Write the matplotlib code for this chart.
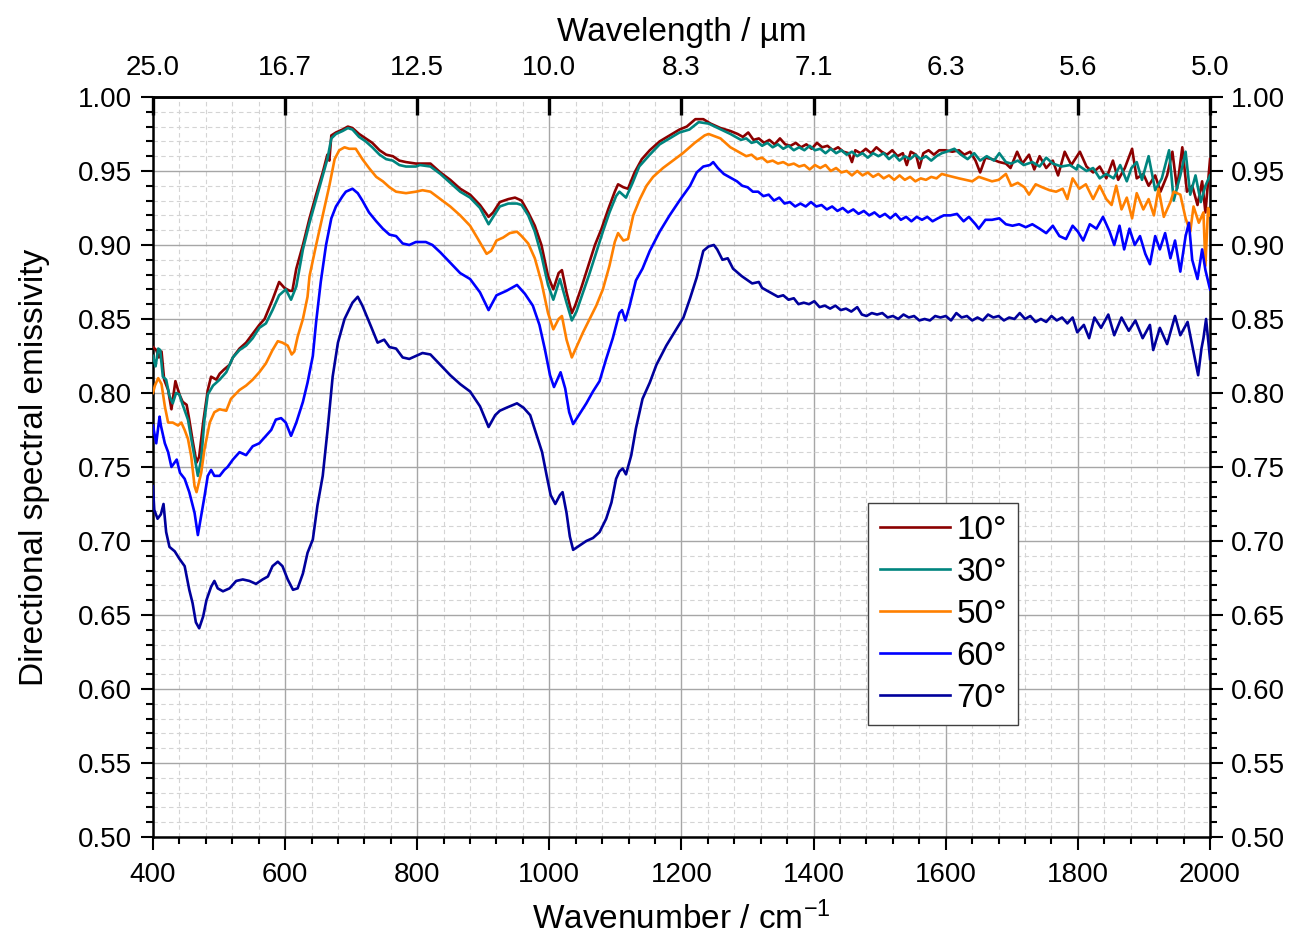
import matplotlib
matplotlib.use("Agg")
import matplotlib.pyplot as plt
from matplotlib.ticker import MultipleLocator, NullLocator

plt.rcParams["font.family"] = ["Liberation Sans", "DejaVu Sans"]
plt.rcParams["mathtext.fontset"] = "custom"
plt.rcParams["mathtext.rm"] = "Liberation Sans"
plt.rcParams["mathtext.default"] = "regular"

# directional spectral emissivity, wavenumber in cm^-1
wn_10 = [400, 405, 409, 413, 417, 423, 428, 434, 438, 441, 445, 451, 455, 460, 466, 470, 476, 483, 488, 496,
         501, 508, 516, 521, 531, 541, 551, 561, 569, 581, 591, 599, 607, 611, 617, 627, 637, 647, 657, 664,
         667, 670, 677, 687, 695, 702, 712, 722, 732, 743, 753, 763, 773, 783, 798, 813, 820, 835, 850, 865,
         880, 895, 908, 915, 925, 938, 948, 958, 968, 978, 988, 998, 1006, 1014, 1019, 1026, 1034, 1039, 1049, 1059,
         1069, 1079, 1089, 1099, 1104, 1112, 1119, 1129, 1140, 1152, 1167, 1182, 1197, 1208, 1221, 1233, 1244, 1259, 1274, 1285,
         1293, 1301, 1309, 1317, 1325, 1333, 1341, 1349, 1357, 1365, 1373, 1381, 1389, 1397, 1405, 1413, 1421, 1429, 1437, 1445,
         1453, 1458, 1463, 1471, 1479, 1487, 1495, 1503, 1511, 1519, 1527, 1535, 1541, 1547, 1555, 1560, 1566, 1574, 1582, 1590,
         1599, 1610, 1620, 1628, 1637, 1645, 1652, 1660, 1670, 1681, 1691, 1698, 1708, 1716, 1726, 1734, 1742,
         1752, 1762, 1770, 1780, 1790, 1803, 1813, 1823, 1833, 1843, 1853, 1861, 1871, 1882, 1889, 1899, 1907, 1917, 1925, 1935,
         1943, 1950, 1958, 1965, 1973, 1981, 1988, 1993, 2000]
eps_10 = [0.831, 0.829, 0.824, 0.828, 0.809, 0.802, 0.789, 0.808, 0.802, 0.798, 0.794, 0.792, 0.782, 0.768, 0.753, 0.757, 0.780, 0.802, 0.811, 0.809,
          0.813, 0.816, 0.819, 0.824, 0.830, 0.834, 0.840, 0.846, 0.850, 0.863, 0.875, 0.871, 0.869, 0.869, 0.884, 0.900, 0.918, 0.934, 0.949, 0.961,
          0.957, 0.974, 0.976, 0.978, 0.980, 0.979, 0.975, 0.972, 0.969, 0.964, 0.961, 0.960, 0.957, 0.956, 0.955, 0.955, 0.955, 0.949, 0.944, 0.938,
          0.934, 0.927, 0.919, 0.922, 0.929, 0.931, 0.932, 0.930, 0.922, 0.913, 0.900, 0.879, 0.870, 0.881, 0.883, 0.868, 0.854, 0.859, 0.872, 0.886,
          0.900, 0.911, 0.924, 0.936, 0.941, 0.939, 0.938, 0.949, 0.958, 0.964, 0.970, 0.974, 0.978, 0.980, 0.985, 0.985, 0.982, 0.979, 0.977, 0.975,
          0.973, 0.976, 0.971, 0.972, 0.969, 0.971, 0.968, 0.972, 0.968, 0.967, 0.969, 0.966, 0.968, 0.965, 0.969, 0.966, 0.967, 0.964, 0.966, 0.963,
          0.962, 0.956, 0.964, 0.962, 0.965, 0.962, 0.966, 0.963, 0.961, 0.964, 0.960, 0.962, 0.954, 0.963, 0.961, 0.952, 0.962, 0.964, 0.961, 0.964,
          0.964, 0.963, 0.964, 0.961, 0.963, 0.957, 0.949, 0.959, 0.958, 0.956, 0.955, 0.952, 0.963, 0.955, 0.961, 0.951, 0.960,
          0.952, 0.957, 0.947, 0.963, 0.954, 0.963, 0.953, 0.949, 0.953, 0.945, 0.957, 0.944, 0.952, 0.965, 0.945, 0.948, 0.940, 0.947, 0.936, 0.947,
          0.963, 0.938, 0.966, 0.936, 0.940, 0.927, 0.943, 0.922, 0.958]

wn_30 = [400, 404, 408, 411, 415, 420, 425, 430, 435, 440, 445, 453, 460, 468, 473, 478, 483, 491, 501, 511,
         521, 531, 541, 551, 561, 571, 581, 591, 601, 609, 617, 627, 637, 647, 657, 664, 670, 677, 687, 695,
         702, 712, 722, 732, 743, 753, 763, 773, 783, 798, 804, 820, 835, 850, 865, 880, 895, 908, 915, 925,
         938, 951, 958, 968, 978, 988, 998, 1006, 1016, 1026, 1034, 1041, 1051, 1061, 1071, 1081, 1091, 1101, 1106, 1116,
         1126, 1136, 1152, 1167, 1182, 1197, 1212, 1226, 1241, 1255, 1274,
         1282, 1290, 1298, 1306, 1314, 1322, 1330, 1338, 1346, 1354, 1362, 1370, 1378, 1386, 1394, 1402, 1410, 1418, 1426, 1434,
         1442, 1450, 1458, 1466, 1474, 1482, 1490, 1498, 1506, 1514, 1522, 1530, 1538, 1546, 1554, 1562, 1570, 1578, 1586, 1594,
         1601, 1613, 1623, 1633, 1643, 1652, 1662, 1673, 1681, 1691, 1699, 1709, 1718, 1731, 1742, 1752,
         1762, 1775, 1788, 1798, 1800, 1813, 1823, 1833, 1843, 1854, 1864, 1874, 1881, 1889, 1897, 1907, 1917, 1927, 1938, 1945,
         1955, 1963, 1970, 1978, 1986, 1993, 2000]
eps_30 = [0.825, 0.818, 0.830, 0.829, 0.811, 0.809, 0.798, 0.793, 0.800, 0.799, 0.792, 0.782, 0.764, 0.744, 0.755, 0.782, 0.799, 0.805, 0.809, 0.814,
          0.824, 0.829, 0.832, 0.837, 0.844, 0.847, 0.856, 0.866, 0.870, 0.863, 0.872, 0.897, 0.915, 0.931, 0.947, 0.958, 0.972, 0.975, 0.977, 0.979,
          0.978, 0.973, 0.970, 0.966, 0.961, 0.958, 0.957, 0.954, 0.953, 0.953, 0.954, 0.953, 0.948, 0.942, 0.936, 0.932, 0.925, 0.914, 0.919, 0.926,
          0.928, 0.928, 0.927, 0.920, 0.909, 0.893, 0.873, 0.863, 0.877, 0.861, 0.849, 0.855, 0.868, 0.881, 0.895, 0.909, 0.922, 0.933, 0.936, 0.932,
          0.942, 0.953, 0.961, 0.968, 0.972, 0.976, 0.978, 0.983, 0.982, 0.979, 0.975,
          0.973, 0.971, 0.972, 0.969, 0.970, 0.967, 0.969, 0.966, 0.968, 0.965, 0.967, 0.964, 0.966, 0.964, 0.967, 0.964, 0.965, 0.962, 0.965, 0.962,
          0.964, 0.961, 0.963, 0.960, 0.962, 0.959, 0.962, 0.960, 0.962, 0.958, 0.961, 0.957, 0.960, 0.958, 0.961, 0.958, 0.960, 0.957, 0.960, 0.962,
          0.963, 0.965, 0.961, 0.958, 0.962, 0.957, 0.960, 0.957, 0.962, 0.956, 0.955, 0.957, 0.954, 0.956, 0.953, 0.959,
          0.955, 0.953, 0.954, 0.951, 0.954, 0.950, 0.952, 0.945, 0.948, 0.945, 0.954, 0.943, 0.952, 0.956, 0.944, 0.960, 0.937, 0.945, 0.964, 0.930,
          0.947, 0.963, 0.934, 0.947, 0.929, 0.940, 0.947]

wn_50 = [400, 403, 408, 413, 418, 423, 430, 438, 443, 448, 453, 458, 463, 466, 473, 478, 486, 493, 501, 511,
         518, 531, 541, 551, 561, 571, 581, 589, 596, 604, 610, 614, 619, 627, 634, 637, 647, 657, 667, 675,
         682, 690, 697, 707, 717, 727, 738, 748, 758, 768, 783, 798, 808, 820, 835, 850, 865, 880, 892, 905,
         912, 920, 930, 940, 951, 958, 968, 978, 988, 998, 1006, 1014, 1019, 1026, 1034, 1041, 1051, 1061, 1071, 1081,
         1091, 1099, 1104, 1112, 1119, 1127, 1137, 1147, 1157, 1172, 1187, 1202, 1220, 1235, 1241, 1259, 1274,
         1290, 1298, 1306, 1314, 1322, 1330, 1338, 1346, 1354, 1362, 1370, 1378, 1386, 1394, 1402, 1410, 1418, 1426, 1434, 1442,
         1450, 1458, 1466, 1474, 1482, 1490, 1498, 1506, 1514, 1522, 1530, 1538, 1546, 1554, 1562, 1570, 1578, 1586, 1594, 1602,
         1620, 1640, 1650, 1670, 1680, 1691,
         1699, 1709, 1719, 1726, 1736, 1746, 1757, 1767, 1777, 1784, 1792, 1802, 1812, 1823, 1833, 1843, 1851, 1858, 1866, 1874,
         1882, 1889, 1899, 1907, 1915, 1922, 1930, 1940, 1945, 1955, 1963, 1970, 1975, 1983, 1990, 1993, 1997, 2000]
eps_50 = [0.800, 0.805, 0.810, 0.806, 0.791, 0.780, 0.780, 0.778, 0.780, 0.775, 0.769, 0.757, 0.737, 0.733, 0.746, 0.762, 0.780, 0.787, 0.789, 0.788,
          0.796, 0.802, 0.805, 0.809, 0.814, 0.820, 0.829, 0.835, 0.834, 0.832, 0.826, 0.828, 0.838, 0.850, 0.865, 0.879, 0.900, 0.920, 0.940, 0.958,
          0.964, 0.966, 0.965, 0.965, 0.958, 0.952, 0.946, 0.943, 0.939, 0.936, 0.935, 0.936, 0.937, 0.936, 0.931, 0.926, 0.920, 0.913, 0.904, 0.894,
          0.896, 0.903, 0.905, 0.908, 0.909, 0.906, 0.901, 0.891, 0.875, 0.854, 0.843, 0.850, 0.852, 0.836, 0.824, 0.831, 0.841, 0.850, 0.859, 0.870,
          0.886, 0.902, 0.908, 0.903, 0.904, 0.920, 0.931, 0.940, 0.946, 0.952, 0.957, 0.962, 0.969, 0.974, 0.975, 0.972, 0.966,
          0.962, 0.960, 0.961, 0.958, 0.959, 0.956, 0.957, 0.955, 0.956, 0.954, 0.955, 0.953, 0.954, 0.951, 0.954, 0.952, 0.954, 0.950, 0.952, 0.949,
          0.950, 0.947, 0.950, 0.947, 0.949, 0.946, 0.948, 0.945, 0.947, 0.944, 0.947, 0.944, 0.946, 0.943, 0.945, 0.944, 0.946, 0.945, 0.948, 0.947,
          0.945, 0.943, 0.946, 0.943, 0.944, 0.948,
          0.940, 0.942, 0.939, 0.934, 0.941, 0.939, 0.937, 0.936, 0.938, 0.931, 0.945, 0.938, 0.941, 0.931, 0.940, 0.931, 0.927, 0.940, 0.924, 0.932,
          0.918, 0.935, 0.924, 0.931, 0.920, 0.938, 0.919, 0.929, 0.936, 0.934, 0.918, 0.909, 0.926, 0.915, 0.922, 0.886, 0.925, 0.920]

wn_60 = [400, 405, 410, 412, 418, 423, 428, 436, 441, 448, 455, 463, 468, 473, 478, 483, 488, 493, 501, 508,
         513, 521, 531, 541, 551, 561, 571, 579, 586, 594, 601, 609, 617, 627, 634, 642, 647, 654, 662, 670,
         677, 687, 692, 702, 710, 717, 727, 738, 748, 758, 768, 778, 788, 798, 813, 823, 835, 850, 865, 880,
         895, 908, 920, 935, 951, 963, 975, 985, 993, 1001, 1007, 1014, 1017, 1024, 1030, 1036, 1046, 1056, 1066, 1076,
         1086, 1096, 1106, 1110, 1115, 1121, 1131, 1141, 1152, 1167, 1182, 1197, 1213, 1223, 1233, 1243, 1248, 1255, 1264,
         1284, 1292, 1300, 1308, 1316, 1324, 1332, 1340, 1348, 1356, 1364, 1372, 1380, 1388, 1396, 1404, 1412, 1420, 1428, 1436,
         1444, 1452, 1460, 1468, 1476, 1484, 1492, 1500, 1508, 1516, 1524, 1532, 1540, 1548, 1556, 1564, 1572, 1580, 1588,
         1597, 1607, 1617, 1627, 1635,
         1645, 1650, 1660, 1670, 1681, 1691, 1701, 1711, 1721, 1731, 1742, 1752, 1762, 1772, 1782, 1792, 1800, 1808, 1818, 1828,
         1838, 1848, 1855, 1863, 1870, 1878, 1886, 1894, 1902, 1909, 1917, 1924, 1932, 1940, 1947, 1955, 1963, 1968, 1973, 1981,
         1988, 1993, 2000]
eps_60 = [0.778, 0.766, 0.784, 0.778, 0.766, 0.760, 0.750, 0.755, 0.746, 0.742, 0.733, 0.719, 0.704, 0.717, 0.730, 0.744, 0.748, 0.744, 0.744, 0.748,
          0.750, 0.755, 0.760, 0.758, 0.764, 0.766, 0.771, 0.775, 0.782, 0.783, 0.780, 0.771, 0.780, 0.794, 0.807, 0.825, 0.848, 0.875, 0.900, 0.918,
          0.926, 0.933, 0.936, 0.938, 0.935, 0.930, 0.922, 0.916, 0.911, 0.907, 0.906, 0.901, 0.900, 0.902, 0.902, 0.900, 0.895, 0.888, 0.881, 0.877,
          0.868, 0.856, 0.866, 0.869, 0.873, 0.867, 0.859, 0.846, 0.830, 0.812, 0.804, 0.811, 0.814, 0.803, 0.787, 0.779, 0.786, 0.793, 0.801, 0.808,
          0.823, 0.837, 0.854, 0.856, 0.849, 0.858, 0.876, 0.884, 0.896, 0.909, 0.920, 0.930, 0.940, 0.949, 0.953, 0.954, 0.956, 0.952, 0.948,
          0.943, 0.940, 0.939, 0.936, 0.936, 0.933, 0.934, 0.930, 0.932, 0.928, 0.929, 0.926, 0.928, 0.926, 0.929, 0.926, 0.927, 0.924, 0.926, 0.923,
          0.925, 0.922, 0.924, 0.921, 0.923, 0.920, 0.922, 0.919, 0.921, 0.918, 0.921, 0.917, 0.919, 0.916, 0.919, 0.917, 0.919, 0.916, 0.918,
          0.920, 0.920, 0.921, 0.916, 0.919,
          0.914, 0.911, 0.917, 0.917, 0.918, 0.914, 0.913, 0.914, 0.912, 0.914, 0.911, 0.908, 0.913, 0.906, 0.904, 0.913, 0.909, 0.903, 0.914, 0.911,
          0.919, 0.909, 0.900, 0.913, 0.897, 0.911, 0.900, 0.906, 0.894, 0.887, 0.906, 0.897, 0.908, 0.891, 0.903, 0.882, 0.906, 0.915, 0.890, 0.877,
          0.897, 0.883, 0.870]

wn_70 = [400, 402, 407, 412, 416, 420, 425, 433, 440, 448, 455, 460, 465, 470, 476, 481, 488, 493, 498, 506,
         516, 526, 536, 546, 556, 566, 574, 581, 589, 596, 604, 612, 619, 627, 634, 642, 649, 657, 665, 672,
         680, 690, 702, 710, 717, 730, 740, 750, 758, 768, 778, 788, 798, 808, 820, 835, 850, 865, 880, 895,
         908, 918, 925, 935, 951, 961, 971, 981, 989, 996, 1002, 1009, 1016, 1020, 1026, 1031, 1036, 1046, 1056, 1066,
         1076, 1086, 1094, 1101, 1106, 1111, 1116, 1124, 1131, 1141, 1152, 1162, 1177, 1192, 1203, 1213, 1223, 1233, 1241, 1249,
         1254, 1262, 1270, 1278, 1291, 1307, 1317, 1322,
         1338, 1346, 1354, 1362, 1370, 1377, 1385, 1393, 1401, 1409, 1417, 1425, 1433, 1441, 1449, 1457, 1466, 1473, 1480, 1488,
         1496, 1504, 1512, 1520, 1528, 1536, 1544, 1552, 1560, 1568, 1576, 1584, 1592, 1600, 1608, 1616, 1624, 1632, 1640, 1648,
         1656, 1664, 1672, 1680, 1688, 1696, 1704, 1712, 1720, 1728, 1736, 1744, 1752, 1760, 1768, 1776, 1784, 1792, 1799,
         1809, 1817, 1825, 1835, 1846, 1855, 1866, 1877, 1887, 1898, 1909, 1914, 1924, 1935, 1947, 1955, 1966, 1977, 1982, 1987,
         1990, 1994, 2000]
eps_70 = [0.737, 0.721, 0.715, 0.718, 0.725, 0.706, 0.696, 0.693, 0.688, 0.683, 0.667, 0.658, 0.645, 0.641, 0.649, 0.660, 0.669, 0.673, 0.668, 0.666,
          0.668, 0.673, 0.674, 0.673, 0.671, 0.674, 0.676, 0.683, 0.686, 0.683, 0.674, 0.667, 0.668, 0.678, 0.692, 0.701, 0.724, 0.744, 0.778, 0.811,
          0.834, 0.850, 0.861, 0.865, 0.859, 0.845, 0.834, 0.836, 0.831, 0.830, 0.824, 0.823, 0.825, 0.827, 0.826, 0.819, 0.812, 0.806, 0.801, 0.791,
          0.777, 0.785, 0.788, 0.790, 0.793, 0.790, 0.785, 0.771, 0.760, 0.744, 0.731, 0.725, 0.731, 0.733, 0.719, 0.703, 0.694, 0.697, 0.700, 0.702,
          0.706, 0.715, 0.726, 0.742, 0.747, 0.749, 0.745, 0.758, 0.776, 0.796, 0.807, 0.819, 0.832, 0.843, 0.851, 0.864, 0.878, 0.896, 0.899, 0.900,
          0.897, 0.890, 0.891, 0.884, 0.879, 0.874, 0.875, 0.871,
          0.867, 0.865, 0.866, 0.863, 0.864, 0.860, 0.861, 0.860, 0.862, 0.858, 0.859, 0.857, 0.859, 0.856, 0.857, 0.855, 0.858, 0.853, 0.852, 0.854,
          0.853, 0.854, 0.851, 0.852, 0.850, 0.853, 0.851, 0.852, 0.849, 0.850, 0.849, 0.852, 0.851, 0.852, 0.849, 0.854, 0.851, 0.852, 0.849, 0.851,
          0.849, 0.853, 0.851, 0.852, 0.849, 0.851, 0.850, 0.854, 0.850, 0.852, 0.848, 0.850, 0.848, 0.852, 0.849, 0.851, 0.847, 0.851, 0.841,
          0.846, 0.837, 0.851, 0.844, 0.853, 0.839, 0.851, 0.842, 0.849, 0.837, 0.846, 0.829, 0.844, 0.833, 0.852, 0.839, 0.848, 0.823, 0.812, 0.830,
          0.837, 0.850, 0.823]

angles = ["10°", "30°", "50°", "60°", "70°"]
colors = ["#8b0000", "#00857f", "#ff8000", "#0000ff", "#00009c"]

wn_ticks = [400, 600, 800, 1000, 1200, 1400, 1600, 1800, 2000]
wl_labels = ["25.0", "16.7", "12.5", "10.0", "8.3", "7.1", "6.3", "5.6", "5.0"]

fig = plt.figure(figsize=(12.95, 9.36), dpi=100)
ax = fig.add_axes([0.1181, 0.1058, 0.8163, 0.7906])

series = [(wn_10, eps_10), (wn_30, eps_30), (wn_50, eps_50), (wn_60, eps_60), (wn_70, eps_70)]
for (x, y), lab, c in zip(series, angles, colors):
    ax.plot(x, y, color=c, lw=1.9, label=lab, zorder=3)

ax.set_xlim(400, 2000)
ax.set_ylim(0.5, 1.0)
ax.xaxis.set_major_locator(MultipleLocator(200))
ax.xaxis.set_minor_locator(MultipleLocator(40))
ax.yaxis.set_major_locator(MultipleLocator(0.05))
ax.yaxis.set_minor_locator(MultipleLocator(0.01))
ax.yaxis.set_major_formatter(lambda v, pos: f"{v:.2f}")

ax.grid(which="major", color="#a6a6a6", lw=1.0, ls="-", zorder=0)
ax.grid(which="minor", color="#d4d4d4", lw=0.8, ls=(0, (4, 3)), zorder=0)
ax.set_axisbelow(True)

for sp in ax.spines.values():
    sp.set_linewidth(1.8)

ax.tick_params(which="both", direction="out", width=1.5, labelsize=20,
               left=True, right=True, labelleft=True, labelright=True,
               bottom=True, top=False)
ax.tick_params(which="major", length=9, pad=6)
ax.tick_params(which="minor", length=5)
ax.tick_params(axis="x", which="major", pad=9)

ax.set_xlabel("Wavenumber / cm$^{-1}$", fontsize=24, labelpad=10)
ax.set_ylabel("Directional spectral emissivity", fontsize=24, labelpad=20)

# wavelength scale on top
top = ax.secondary_xaxis("top")
top.set_zorder(5)
top.set_xticks(wn_ticks, labels=wl_labels)
top.xaxis.set_minor_locator(NullLocator())
top.tick_params(direction="in", length=13, width=2.4, color="black", labelsize=20, pad=11.5)
top.spines["top"].set_linewidth(1.8)
top.set_xlabel("Wavelength / µm", fontsize=24, labelpad=10)

leg = ax.legend(loc="upper left", bbox_to_anchor=(0.6764, 0.4514), borderaxespad=0,
                fontsize=24, handlelength=2.1, handletextpad=0.2, labelspacing=0.33,
                borderpad=0.35, fancybox=False, framealpha=1, edgecolor="#404040")
leg.get_frame().set_linewidth(1.0)

fig.savefig("out.png", dpi=100, facecolor="white")
